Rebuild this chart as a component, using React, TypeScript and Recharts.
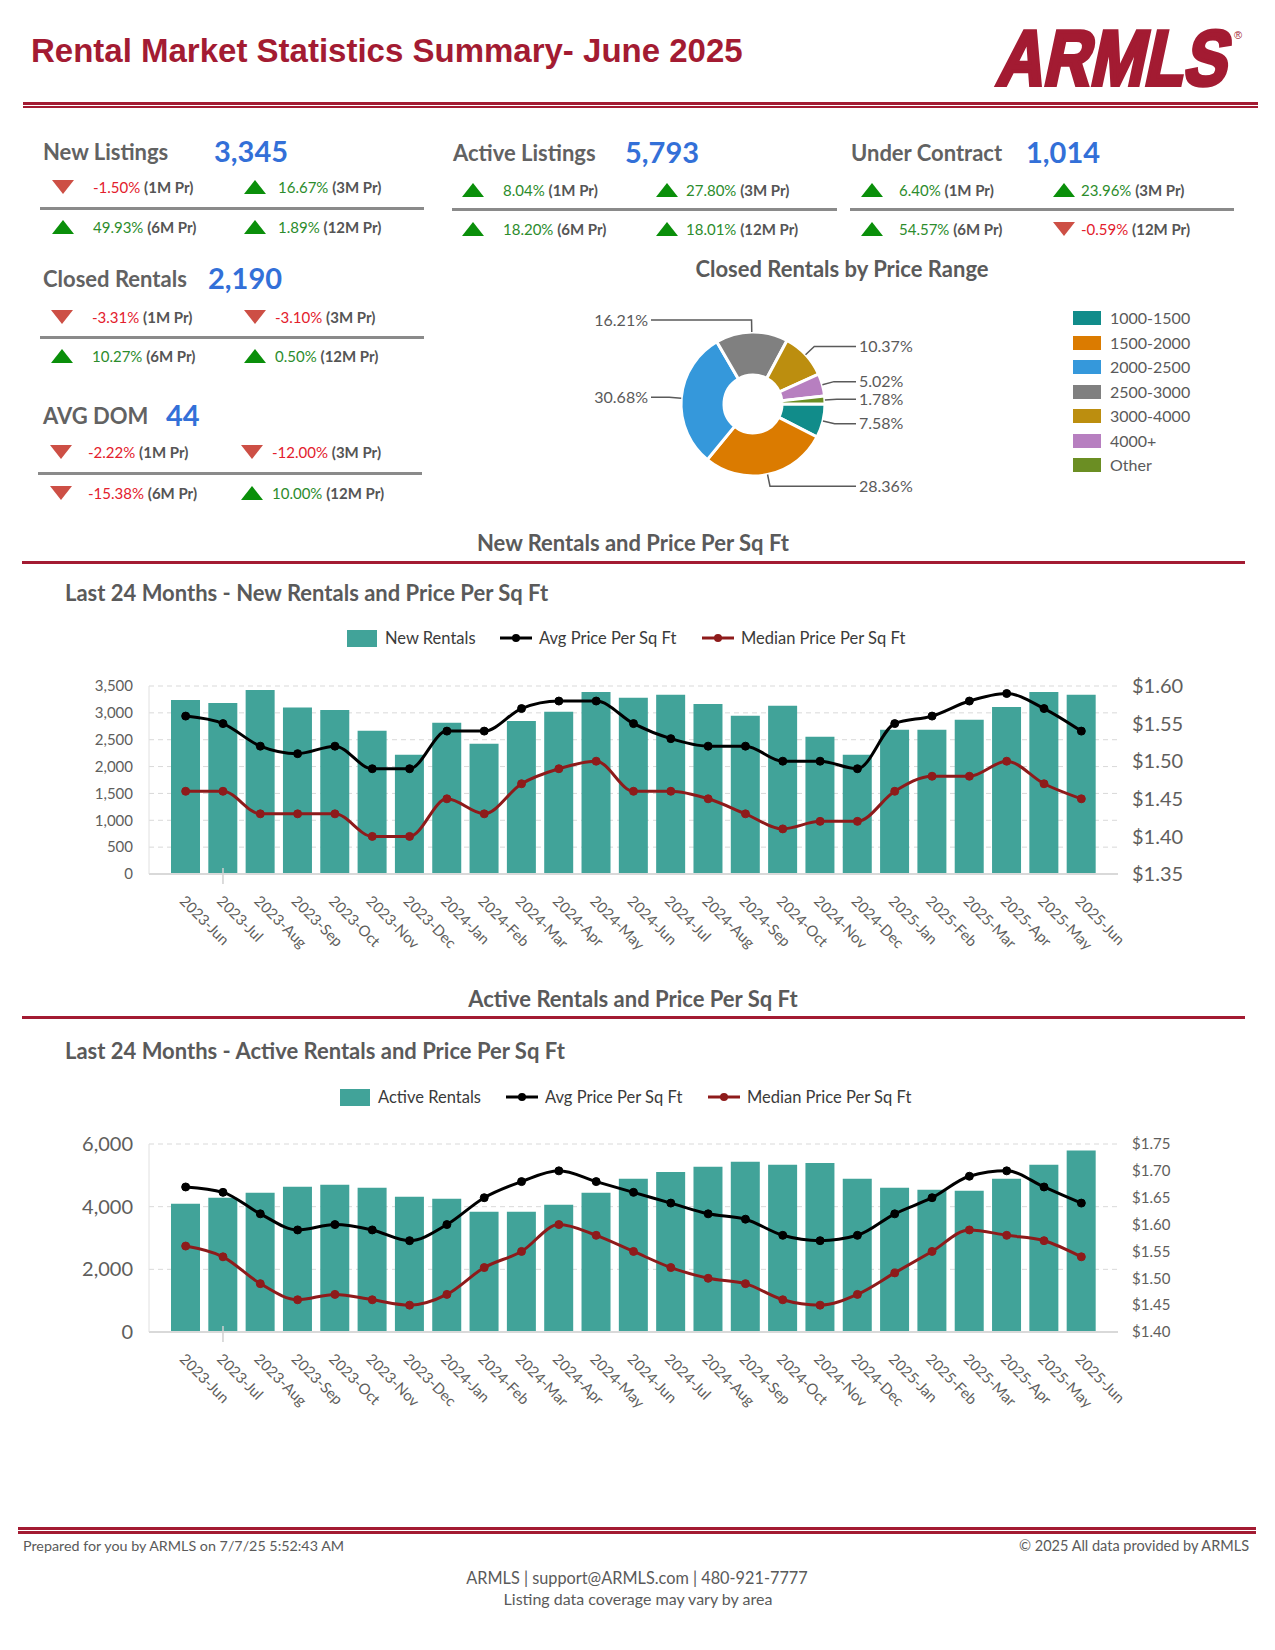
import React from "react";
import {
  ComposedChart,
  Bar,
  Line,
  XAxis,
  YAxis,
  CartesianGrid,
  PieChart,
  Pie,
  Cell,
} from "recharts";

const FONT = "Lato, 'Open Sans', sans-serif";
const RED = "#A31B32";
const GRAY_TEXT = "#5f5f5f";

// ---- KPI blocks ----
const statTitles = ["New Listings", "Active Listings", "Under Contract", "Closed Rentals", "AVG DOM"];
const statValues = ["3,345", "5,793", "1,014", "2,190", "44"];
const statChanges = [
  ["-1.50%", "16.67%", "49.93%", "1.89%"],
  ["8.04%", "27.80%", "18.20%", "18.01%"],
  ["6.40%", "23.96%", "54.57%", "-0.59%"],
  ["-3.31%", "-3.10%", "10.27%", "0.50%"],
  ["-2.22%", "-12.00%", "-15.38%", "10.00%"],
];
const periodLabels = ["1M Pr", "3M Pr", "6M Pr", "12M Pr"];

// ---- Closed rentals by price range ----
const priceRanges = ["1000-1500", "1500-2000", "2000-2500", "2500-3000", "3000-4000", "4000+", "Other"];
const priceShares = [7.58, 28.36, 30.68, 16.21, 10.37, 5.02, 1.78];
const priceColors = ["#118C8A", "#DB7B00", "#3598DB", "#808080", "#BC8E0F", "#B77FC0", "#6B8E23"];

// ---- 24 month charts ----
const months = [
  "2023-Jun", "2023-Jul", "2023-Aug", "2023-Sep", "2023-Oct", "2023-Nov", "2023-Dec",
  "2024-Jan", "2024-Feb", "2024-Mar", "2024-Apr", "2024-May", "2024-Jun", "2024-Jul",
  "2024-Aug", "2024-Sep", "2024-Oct", "2024-Nov", "2024-Dec",
  "2025-Jan", "2025-Feb", "2025-Mar", "2025-Apr", "2025-May", "2025-Jun",
];

const newRentals = [
  3240, 3185, 3425, 3100, 3055, 2665, 2220, 2815, 2425, 2850, 3020, 3390, 3280,
  3335, 3165, 2945, 3130, 2555, 2220, 2685, 2685, 2870, 3110, 3390, 3335,
];
const newAvgPpsf = [
  1.56, 1.55, 1.52, 1.51, 1.52, 1.49, 1.49, 1.54, 1.54, 1.57, 1.58, 1.58, 1.55,
  1.53, 1.52, 1.52, 1.5, 1.5, 1.49, 1.55, 1.56, 1.58, 1.59, 1.57, 1.54,
];
const newMedianPpsf = [
  1.46, 1.46, 1.43, 1.43, 1.43, 1.4, 1.4, 1.45, 1.43, 1.47, 1.49, 1.5, 1.46,
  1.46, 1.45, 1.43, 1.41, 1.42, 1.42, 1.46, 1.48, 1.48, 1.5, 1.47, 1.45,
];

const activeRentals = [
  4095, 4285, 4445, 4635, 4700, 4605, 4315, 4255, 3840, 3840, 4065, 4445, 4890,
  5110, 5270, 5430, 5335, 5395, 4890, 4605, 4540, 4510, 4890, 5335, 5793,
];
const activeAvgPpsf = [
  1.67, 1.66, 1.62, 1.59, 1.6, 1.59, 1.57, 1.6, 1.65, 1.68, 1.7, 1.68, 1.66,
  1.64, 1.62, 1.61, 1.58, 1.57, 1.58, 1.62, 1.65, 1.69, 1.7, 1.67, 1.64,
];
const activeMedianPpsf = [
  1.56, 1.54, 1.49, 1.46, 1.47, 1.46, 1.45, 1.47, 1.52, 1.55, 1.6, 1.58, 1.55,
  1.52, 1.5, 1.49, 1.46, 1.45, 1.47, 1.51, 1.55, 1.59, 1.58, 1.57, 1.54,
];

const newSeries = ["New Rentals", "Avg Price Per Sq Ft", "Median Price Per Sq Ft"];
const activeSeries = ["Active Rentals", "Avg Price Per Sq Ft", "Median Price Per Sq Ft"];

const newLeftTicks = [0, 500, 1000, 1500, 2000, 2500, 3000, 3500];
const newRightTicks = [1.35, 1.4, 1.45, 1.5, 1.55, 1.6];
const activeLeftTicks = [0, 2000, 4000, 6000];
const activeRightTicks = [1.4, 1.45, 1.5, 1.55, 1.6, 1.65, 1.7, 1.75];

const BAR_COLOR = "#41A399";
const AVG_COLOR = "#000000";
const MEDIAN_COLOR = "#8E1B1B";

type TxtProps = {
  x: number;
  y: number;
  size: number;
  color?: string;
  weight?: number | string;
  anchor?: "start" | "middle" | "end";
  family?: string;
  children: React.ReactNode;
};

function Txt({ x, y, size, color = GRAY_TEXT, weight = 400, anchor = "start", family = FONT, children }: TxtProps) {
  const shift = anchor === "start" ? "0" : anchor === "middle" ? "-50%" : "-100%";
  return (
    <div
      style={{
        position: "absolute",
        left: x,
        top: y,
        transform: `translate(${shift}, -50%)`,
        fontFamily: family,
        fontSize: size,
        fontWeight: weight,
        color,
        lineHeight: 1,
        whiteSpace: "nowrap",
      }}
    >
      {children}
    </div>
  );
}

function HLine({ x1, x2, y, h, color }: { x1: number; x2: number; y: number; h: number; color: string }) {
  return <div style={{ position: "absolute", left: x1, top: y, width: x2 - x1, height: h, background: color }} />;
}

function Triangle({ x, y, up }: { x: number; y: number; up: boolean }) {
  return (
    <svg style={{ position: "absolute", left: x, top: y - 7 }} width={22} height={14}>
      {up ? (
        <polygon points="0,14 11,0 22,14" fill="#0A8F0A" />
      ) : (
        <polygon points="0,0 22,0 11,14" fill="#CD4F45" />
      )}
    </svg>
  );
}

const blockLayout = [
  { x: 43, valueX: 214, titleY: 152, valueY: 150, row1Y: 187, lineY: 207, row2Y: 227, l1: 40, l2: 424, tri1: 52, txt1: 93, tri2: 244, txt2: 278 },
  { x: 453, valueX: 625, titleY: 153, valueY: 151, row1Y: 190, lineY: 208, row2Y: 229, l1: 452, l2: 837, tri1: 462, txt1: 503, tri2: 656, txt2: 686 },
  { x: 851, valueX: 1026, titleY: 153, valueY: 151, row1Y: 190, lineY: 208, row2Y: 229, l1: 850, l2: 1234, tri1: 861, txt1: 899, tri2: 1053, txt2: 1081 },
  { x: 43, valueX: 208, titleY: 279, valueY: 277, row1Y: 317, lineY: 336, row2Y: 356, l1: 40, l2: 424, tri1: 51, txt1: 92, tri2: 244, txt2: 275 },
  { x: 43, valueX: 166, titleY: 416, valueY: 414, row1Y: 452, lineY: 472, row2Y: 493, l1: 38, l2: 422, tri1: 50, txt1: 88, tri2: 241, txt2: 272 },
];

function Change({ tri, txt, y, pct, period }: { tri: number; txt: number; y: number; pct: string; period: string }) {
  const down = pct.startsWith("-");
  return (
    <>
      <Triangle x={tri} y={y} up={!down} />
      <Txt x={txt} y={y} size={15} color={down ? "#E3202C" : "#2C8C2C"}>
        {pct} <span style={{ color: "#555", fontWeight: 700 }}>({period})</span>
      </Txt>
    </>
  );
}

function StatBlock({ i }: { i: number }) {
  const L = blockLayout[i];
  const ch = statChanges[i];
  return (
    <>
      <Txt x={L.x} y={L.titleY} size={22} weight={700} color="#626262">
        {statTitles[i]}
      </Txt>
      <Txt x={L.valueX} y={L.valueY} size={29} weight={700} color="#3370D8">
        {statValues[i]}
      </Txt>
      <Change tri={L.tri1} txt={L.txt1} y={L.row1Y} pct={ch[0]} period={periodLabels[0]} />
      <Change tri={L.tri2} txt={L.txt2} y={L.row1Y} pct={ch[1]} period={periodLabels[1]} />
      <HLine x1={L.l1} x2={L.l2} y={L.lineY} h={3} color="#8a8a8a" />
      <Change tri={L.tri1} txt={L.txt1} y={L.row2Y} pct={ch[2]} period={periodLabels[2]} />
      <Change tri={L.tri2} txt={L.txt2} y={L.row2Y} pct={ch[3]} period={periodLabels[3]} />
    </>
  );
}

const pieData = priceRanges.map((name, i) => ({ name, value: priceShares[i] }));

const renderPieLabel = (props: any) => {
  const { cx, cy, midAngle, outerRadius, value } = props;
  const RAD = Math.PI / 180;
  const cos = Math.cos(-midAngle * RAD);
  const sin = Math.sin(-midAngle * RAD);
  const p1x = cx + outerRadius * cos;
  const p1y = cy + outerRadius * sin;
  const p2x = cx + (outerRadius + 12) * cos;
  const p2y = cy + (outerRadius + 12) * sin;
  const right = cos >= 0;
  const p3x = right ? cx + 103 : cx - 102;
  const tx = right ? cx + 106 : cx - 105;
  return (
    <g>
      <polyline
        points={`${p1x},${p1y} ${p2x},${p2y} ${p3x},${p2y}`}
        fill="none"
        stroke="#5a5a5a"
        strokeWidth={1.5}
      />
      <text
        x={tx}
        y={p2y}
        dy="0.35em"
        textAnchor={right ? "start" : "end"}
        fontFamily={FONT}
        fontSize={16}
        fill="#5a5a5a"
      >
        {`${Number(value).toFixed(2)}%`}
      </text>
    </g>
  );
};

const MonthTick = (props: any) => {
  const { x, y, payload, index } = props;
  return (
    <g>
      {index === 1 && <line x1={x} y1={y - 8} x2={x} y2={y + 8} stroke="#d0d0d0" strokeWidth={1.5} />}
      <text
        transform={`translate(${x - 7},${y + 26}) rotate(45)`}
        textAnchor="start"
        fontFamily={FONT}
        fontSize={15}
        fill="#605E5C"
      >
        {payload.value}
      </text>
    </g>
  );
};

type ComboProps = {
  top: number;
  bars: number[];
  avg: number[];
  median: number[];
  names: string[];
  leftTicks: number[];
  rightTicks: number[];
  leftFont: number;
  rightFont: number;
};

function ComboChart({ top, bars, avg, median, names, leftTicks, rightTicks, leftFont, rightFont }: ComboProps) {
  const data = months.map((month, i) => ({ month, bars: bars[i], avg: avg[i], median: median[i] }));
  return (
    <div style={{ position: "absolute", left: 0, top }}>
      <ComposedChart width={1275} height={300} data={data} margin={{ top: 25, right: 0, bottom: 0, left: 0 }}>
        <CartesianGrid yAxisId="left" vertical={false} stroke="#d9d9d9" strokeDasharray="5 4" />
        <XAxis
          dataKey="month"
          interval={0}
          height={87}
          padding={{ left: 18, right: 18 }}
          tick={<MonthTick />}
          tickLine={false}
          tickSize={0}
          axisLine={{ stroke: "#d9d9d9", strokeWidth: 2 }}
        />
        <YAxis
          yAxisId="left"
          width={149}
          domain={[leftTicks[0], leftTicks[leftTicks.length - 1]]}
          ticks={leftTicks}
          tickFormatter={(v) => Number(v).toLocaleString("en-US")}
          tick={{ fontSize: leftFont, fill: "#605E5C", fontFamily: FONT }}
          tickLine={false}
          tickSize={0}
          tickMargin={16}
          axisLine={{ stroke: "#e0e0e0", strokeWidth: 1 }}
        />
        <YAxis
          yAxisId="right"
          orientation="right"
          width={157}
          domain={[rightTicks[0], rightTicks[rightTicks.length - 1]]}
          ticks={rightTicks}
          tickFormatter={(v) => `$${Number(v).toFixed(2)}`}
          tick={{ fontSize: rightFont, fill: "#605E5C", fontFamily: FONT }}
          tickLine={false}
          tickSize={0}
          tickMargin={14}
          axisLine={false}
        />
        <Bar yAxisId="left" dataKey="bars" name={names[0]} fill={BAR_COLOR} barSize={29} isAnimationActive={false} />
        <Line
          yAxisId="right"
          type="monotone"
          dataKey="avg"
          name={names[1]}
          stroke={AVG_COLOR}
          strokeWidth={3}
          dot={{ r: 4, fill: AVG_COLOR, stroke: AVG_COLOR, strokeWidth: 1 }}
          isAnimationActive={false}
        />
        <Line
          yAxisId="right"
          type="monotone"
          dataKey="median"
          name={names[2]}
          stroke={MEDIAN_COLOR}
          strokeWidth={3}
          dot={{ r: 4, fill: MEDIAN_COLOR, stroke: MEDIAN_COLOR, strokeWidth: 1 }}
          isAnimationActive={false}
        />
      </ComposedChart>
    </div>
  );
}

function ChartLegend({ y, names, xs }: { y: number; names: string[]; xs: number[] }) {
  return (
    <>
      <div style={{ position: "absolute", left: xs[0], top: y - 8, width: 30, height: 17, background: BAR_COLOR }} />
      <Txt x={xs[0] + 38} y={y} size={16.5} color="#3a3a3a">
        {names[0]}
      </Txt>
      {[AVG_COLOR, MEDIAN_COLOR].map((c, k) => (
        <React.Fragment key={k}>
          <svg style={{ position: "absolute", left: xs[k + 1], top: y - 6 }} width={32} height={12}>
            <line x1={0} y1={6} x2={32} y2={6} stroke={c} strokeWidth={3} />
            <circle cx={16} cy={6} r={4} fill={c} />
          </svg>
          <Txt x={xs[k + 1] + 39} y={y} size={16.5} color="#3a3a3a">
            {names[k + 1]}
          </Txt>
        </React.Fragment>
      ))}
    </>
  );
}

export default function App() {
  return (
    <div style={{ position: "absolute", left: 0, top: 0, width: 1275, height: 1650, background: "#fff", overflow: "hidden" }}>
      {/* Header */}
      <div
        style={{
          position: "absolute",
          left: 31,
          top: 34,
          fontFamily: "'Liberation Sans', Arial, sans-serif",
          fontWeight: 700,
          fontSize: 33,
          lineHeight: 1,
          color: RED,
          whiteSpace: "nowrap",
        }}
      >
        Rental Market Statistics Summary- June 2025
      </div>
      <svg style={{ position: "absolute", left: 975, top: 20, overflow: "visible" }} width={285} height={80}>
        <g transform="translate(20,65) skewX(-12) scale(0.83,1)">
          <text
            x={0}
            y={0}
            fontFamily="'Liberation Sans', Arial, sans-serif"
            fontWeight={700}
            fontSize={78}
            fill={RED}
            stroke={RED}
            strokeWidth={4}
            strokeLinejoin="miter"
          >
            ARMLS
          </text>
        </g>
        <text x={259} y={19} fontFamily="'Liberation Sans', Arial, sans-serif" fontSize={11} fill={RED}>
          ®
        </text>
      </svg>
      <HLine x1={23} x2={1258} y={102} h={3} color={RED} />
      <HLine x1={23} x2={1258} y={106} h={2} color={RED} />

      {/* KPI blocks */}
      {statTitles.map((_, i) => (
        <StatBlock key={i} i={i} />
      ))}

      {/* Pie */}
      <Txt x={842} y={269} size={22} weight={700} anchor="middle" color="#5a5a5a">
        Closed Rentals by Price Range
      </Txt>
      <div style={{ position: "absolute", left: 560, top: 290 }}>
        <PieChart width={420} height={230}>
          <Pie
            data={pieData}
            dataKey="value"
            nameKey="name"
            cx={188}
            cy={109}
            innerRadius={29}
            outerRadius={72}
            startAngle={0}
            endAngle={-360}
            stroke="#ffffff"
            strokeWidth={3}
            label={renderPieLabel}
            labelLine={false}
            isAnimationActive={false}
          >
            {pieData.map((d, i) => (
              <Cell key={d.name} fill={priceColors[i]} />
            ))}
          </Pie>
        </PieChart>
      </div>
      {priceRanges.map((r, i) => (
        <React.Fragment key={r}>
          <div
            style={{ position: "absolute", left: 1073, top: 318 + i * 24.5 - 7, width: 28, height: 14, background: priceColors[i] }}
          />
          <Txt x={1110} y={318 + i * 24.5} size={16} color="#5a5a5a">
            {r}
          </Txt>
        </React.Fragment>
      ))}

      {/* New rentals section */}
      <Txt x={633} y={543} size={22} weight={700} anchor="middle" color="#5a5a5a">
        New Rentals and Price Per Sq Ft
      </Txt>
      <HLine x1={22} x2={1245} y={561} h={3} color={RED} />
      <Txt x={65} y={593} size={22} weight={700} color="#5a5a5a">
        Last 24 Months - New Rentals and Price Per Sq Ft
      </Txt>
      <ChartLegend y={638} names={newSeries} xs={[347, 500, 702]} />
      <ComboChart
        top={661}
        bars={newRentals}
        avg={newAvgPpsf}
        median={newMedianPpsf}
        names={newSeries}
        leftTicks={newLeftTicks}
        rightTicks={newRightTicks}
        leftFont={15}
        rightFont={20}
      />

      {/* Active rentals section */}
      <Txt x={633} y={999} size={22} weight={700} anchor="middle" color="#5a5a5a">
        Active Rentals and Price Per Sq Ft
      </Txt>
      <HLine x1={22} x2={1245} y={1016} h={3} color={RED} />
      <Txt x={65} y={1051} size={22} weight={700} color="#5a5a5a">
        Last 24 Months - Active Rentals and Price Per Sq Ft
      </Txt>
      <ChartLegend y={1097} names={activeSeries} xs={[340, 506, 708]} />
      <ComboChart
        top={1119}
        bars={activeRentals}
        avg={activeAvgPpsf}
        median={activeMedianPpsf}
        names={activeSeries}
        leftTicks={activeLeftTicks}
        rightTicks={activeRightTicks}
        leftFont={20}
        rightFont={15}
      />

      {/* Footer */}
      <HLine x1={18} x2={1256} y={1527} h={3} color={RED} />
      <HLine x1={18} x2={1256} y={1531} h={3} color={RED} />
      <Txt x={23} y={1546} size={14.3} color="#5a5a5a">
        Prepared for you by ARMLS on 7/7/25 5:52:43 AM
      </Txt>
      <Txt x={1249} y={1546} size={14.5} color="#5a5a5a" anchor="end">
        © 2025 All data provided by ARMLS
      </Txt>
      <Txt x={637} y={1578} size={16.3} color="#5a5a5a" anchor="middle">
        ARMLS | support@ARMLS.com | 480-921-7777
      </Txt>
      <Txt x={638} y={1599} size={16} color="#5a5a5a" anchor="middle">
        Listing data coverage may vary by area
      </Txt>
    </div>
  );
}
